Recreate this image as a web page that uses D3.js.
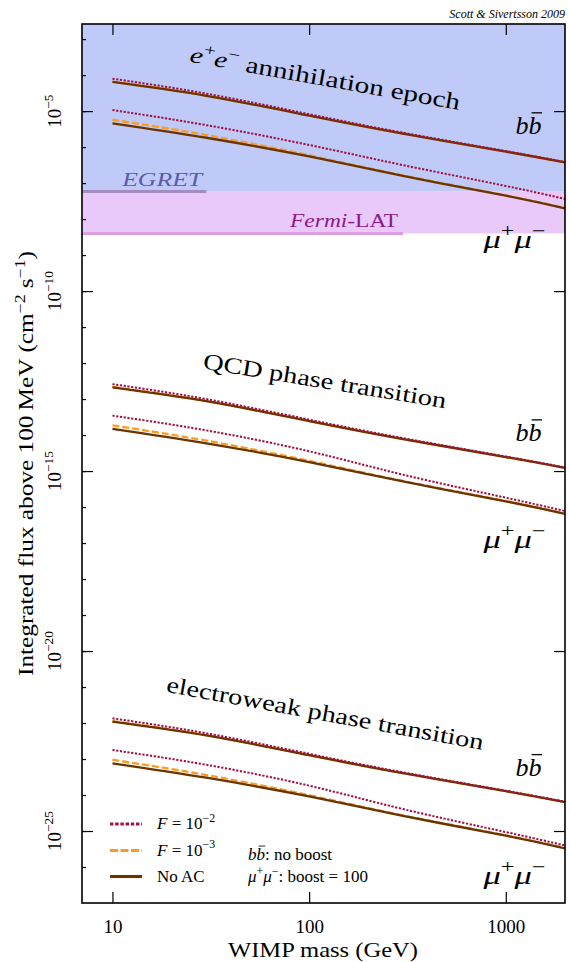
<!DOCTYPE html>
<html>
<head>
<meta charset="utf-8">
<script src="https://cdn.jsdelivr.net/npm/d3@7"></script>
<style>
  body { margin: 0; background: #fff; }
  svg { display: block; }
</style>
</head>
<body>
<svg id="chart"></svg>
<script>
// WIMP masses (GeV) where the curves were read
const masses = [10, 30, 100, 300, 1000, 2000];

// log10 of integrated flux, e+e- annihilation epoch
const eeBbF2   = [-4.10, -4.515, -5.085, -5.60, -6.11, -6.415];
const eeBbF3   = [-4.178, -4.567, -5.12, -5.622, -6.123, -6.424];
const eeBbNoAC = [-4.19, -4.575, -5.125, -5.625, -6.125, -6.425];
const eeMuF2   = [-4.97, -5.39, -5.94, -6.50, -7.08, -7.44];
const eeMuF3   = [-5.24, -5.665, -6.225, -6.785, -7.342, -7.695];
const eeMuNoAC = [-5.34, -5.74, -6.26, -6.80, -7.35, -7.70];

// QCD phase transition
const qcdBbF2   = [-12.585, -13.00, -13.57, -14.085, -14.595, -14.90];
const qcdBbF3   = [-12.663, -13.052, -13.605, -14.107, -14.608, -14.909];
const qcdBbNoAC = [-12.675, -13.06, -13.61, -14.11, -14.61, -14.91];
const qcdMuF2   = [-13.46, -13.87, -14.45, -15.10, -15.74, -16.11];
const qcdMuF3   = [-13.73, -14.155, -14.715, -15.275, -15.832, -16.185];
const qcdMuNoAC = [-13.83, -14.23, -14.75, -15.29, -15.84, -16.19];

// electroweak phase transition
const ewBbF2   = [-21.87, -22.285, -22.855, -23.37, -23.88, -24.185];
const ewBbF3   = [-21.948, -22.337, -22.89, -23.392, -23.893, -24.194];
const ewBbNoAC = [-21.96, -22.345, -22.895, -23.395, -23.895, -24.195];
const ewMuF2   = [-22.75, -23.16, -23.74, -24.39, -25.03, -25.40];
const ewMuF3   = [-23.02, -23.445, -24.005, -24.565, -25.122, -25.475];
const ewMuNoAC = [-23.12, -23.52, -24.04, -24.58, -25.13, -25.48];

// experimental sensitivities: flux limit and mass extent of the marker line
const egretLimit = 5.8e-8, egretMass = 30;
const fermiLimit = 4e-9, fermiMass = 300;

const xTicks = [10, 100, 1000];
const yLabelExp = [-25, -20, -15, -10, -5];
const yMinorExp = d3.range(-26, -2);

const width = 570, height = 962;
const margin = { top: 24, right: 5, bottom: 59, left: 82 };
const FONT = "'Liberation Serif', 'DejaVu Serif', serif";

const colF2 = "#a3103f", colF3 = "#ff9a20", colNo = "#6a3400";

const svg = d3.select("#chart").attr("width", width).attr("height", height)
  .attr("font-family", FONT);

const x = d3.scaleLog().domain([7, 2000]).range([margin.left, width - margin.right]);
const y = d3.scaleLog().domain([1e-27, Math.pow(10, -2.58)]).range([height - margin.bottom, margin.top]);

const [x0, x1] = x.range();
const [yb, yt] = y.range();

// helper for text with italics / superscripts
function rich(sel, parts, size) {
  let shift = 0;
  parts.forEach(p => {
    const ts = sel.append("tspan").text(p.t);
    const target = p.sup ? -0.42 * size : 0;
    if (target !== shift) { ts.attr("dy", target - shift); shift = target; }
    if (p.sup) ts.attr("font-size", size * 0.7);
    if (p.it) ts.attr("font-style", "italic");
  });
  return sel;
}

// b with a bar: draw the bar as a short line over the second b
function bbar(g, px, py, size) {
  const t = g.append("text").attr("x", px).attr("y", py).attr("font-size", size);
  t.append("tspan").attr("font-style", "italic").text("b");
  t.append("tspan").attr("font-style", "italic").text("b");
  const bw = size * 0.5;
  g.append("line")
    .attr("x1", px + bw + size * 0.12).attr("x2", px + 2 * bw + size * 0.02)
    .attr("y1", py - size * 0.82).attr("y2", py - size * 0.82)
    .attr("stroke", "#000").attr("stroke-width", size * 0.05);
  return t;
}

// shaded sensitivity regions
svg.append("rect")
  .attr("x", x0).attr("width", x1 - x0)
  .attr("y", yt).attr("height", y(egretLimit) - yt)
  .attr("fill", "#bfcaf8");
svg.append("rect")
  .attr("x", x0).attr("width", x1 - x0)
  .attr("y", y(egretLimit)).attr("height", y(fermiLimit) - y(egretLimit))
  .attr("fill", "#e8c9f9");

svg.append("line")
  .attr("x1", x0).attr("x2", x(egretMass))
  .attr("y1", y(egretLimit)).attr("y2", y(egretLimit))
  .attr("stroke", "#a38cbf").attr("stroke-width", 3);
svg.append("line")
  .attr("x1", x0).attr("x2", x(fermiMass))
  .attr("y1", y(fermiLimit)).attr("y2", y(fermiLimit))
  .attr("stroke", "#de9fe0").attr("stroke-width", 3);

svg.append("text")
  .attr("x", x(11.2)).attr("y", y(egretLimit) - 6)
  .attr("font-size", 19).attr("font-style", "italic").attr("fill", "#5b5ba8")
  .attr("textLength", 80).attr("lengthAdjust", "spacingAndGlyphs")
  .text("EGRET");
const fermiText = svg.append("text")
  .attr("x", x(80)).attr("y", y(fermiLimit) - 6)
  .attr("font-size", 19).attr("fill", "#8b1a8b")
  .attr("textLength", 108).attr("lengthAdjust", "spacingAndGlyphs");
fermiText.append("tspan").attr("font-style", "italic").text("Fermi");
fermiText.append("tspan").text("-LAT");

// curves
const line = d3.line()
  .x((d, i) => x(masses[i]))
  .y(d => y(Math.pow(10, d)))
  .curve(d3.curveNatural);

const curveSets = [
  [eeBbF3, eeBbNoAC, eeBbF2, eeMuF3, eeMuNoAC, eeMuF2],
  [qcdBbF3, qcdBbNoAC, qcdBbF2, qcdMuF3, qcdMuNoAC, qcdMuF2],
  [ewBbF3, ewBbNoAC, ewBbF2, ewMuF3, ewMuNoAC, ewMuF2]
];
const styles = [
  { c: colF3, w: 2.3, dash: "7,3" },
  { c: colNo, w: 2.3, dash: null },
  { c: colF2, w: 2, dash: "2.2,1.6" }
];

// draw: dashed first, then the no-AC lines, then dotted
curveSets.forEach(set => {
  [0, 1, 2].forEach(k => {
    [set[k], set[k + 3]].forEach(series => {
      svg.append("path")
        .attr("d", line(series))
        .attr("fill", "none")
        .attr("stroke", styles[k].c)
        .attr("stroke-width", styles[k].w)
        .attr("stroke-dasharray", styles[k].dash);
    });
  });
});

// epoch labels, rotated along the curves
const epochLabels = [
  { parts: [{ t: "e", it: 1 }, { t: "+", sup: 1 }, { t: "e", it: 1 }, { t: "\u2212", sup: 1 }, { t: " annihilation epoch" }], m: 24.5, f: -3.63, a: 10.1, len: 274 },
  { parts: [{ t: "QCD phase transition" }], m: 28.6, f: -12.15, a: 9.3, len: 246 },
  { parts: [{ t: "electroweak phase transition" }], m: 18.6, f: -21.13, a: 10.4, len: 322 }
];
epochLabels.forEach(l => {
  const t = svg.append("text")
    .attr("font-size", 23)
    .attr("textLength", l.len).attr("lengthAdjust", "spacingAndGlyphs")
    .attr("transform", `translate(${x(l.m)},${y(Math.pow(10, l.f))}) rotate(${l.a})`);
  rich(t, l.parts, 23);
});

// channel labels
const bbY = [-5.64, -14.17, -23.47];
const muY = [-8.81, -17.14, -26.47];
bbY.forEach(v => bbar(svg, x(1120), y(Math.pow(10, v)), 26));
muY.forEach(v => {
  const t = svg.append("text").attr("font-size", 26)
    .attr("textLength", 62).attr("lengthAdjust", "spacingAndGlyphs")
    .attr("x", x(770)).attr("y", y(Math.pow(10, v)));
  rich(t, [{ t: "\u03bc", it: 1 }, { t: "+", sup: 1 }, { t: "\u03bc", it: 1 }, { t: "\u2212", sup: 1 }], 26);
});

// axes
svg.append("g").attr("transform", `translate(${x0},0)`)
  .call(d3.axisLeft(y).tickValues(yMinorExp.map(e => Math.pow(10, e))).tickSize(-4).tickFormat(""))
  .call(g => g.select(".domain").remove());
svg.append("g").attr("transform", `translate(${x0},0)`)
  .call(d3.axisLeft(y).tickValues(yLabelExp.map(e => Math.pow(10, e))).tickSize(-11).tickFormat(""))
  .call(g => g.select(".domain").remove());
svg.append("g").attr("transform", `translate(${x1},0)`)
  .call(d3.axisRight(y).tickValues(yLabelExp.map(e => Math.pow(10, e))).tickSize(-11).tickFormat(""))
  .call(g => g.select(".domain").remove());
svg.append("g").attr("transform", `translate(0,${yt})`)
  .call(d3.axisTop(x).tickValues(xTicks).tickSize(-11).tickFormat(""))
  .call(g => g.select(".domain").remove());
const xAxis = svg.append("g").attr("transform", `translate(0,${yb})`)
  .call(d3.axisBottom(x).tickValues(xTicks).tickSize(-11).tickPadding(17).tickFormat(d3.format("d")))
  .call(g => g.select(".domain").remove());
xAxis.selectAll("text").attr("font-size", 19).attr("fill", "#000");
svg.selectAll(".tick line").attr("stroke", "#000").attr("stroke-width", 1.2);

yLabelExp.forEach(e => {
  const t = svg.append("text")
    .attr("font-size", 19).attr("text-anchor", "middle")
    .attr("transform", `translate(61,${y(Math.pow(10, e))}) rotate(-90)`);
  rich(t, [{ t: "10" }, { t: "\u2212" + (-e), sup: 1 }], 19);
});

// frame
svg.append("rect")
  .attr("x", x0).attr("y", yt).attr("width", x1 - x0).attr("height", yb - yt)
  .attr("fill", "none").attr("stroke", "#000").attr("stroke-width", 1.6);

// axis titles
svg.append("text")
  .attr("x", 323).attr("y", 957)
  .attr("text-anchor", "middle").attr("font-size", 21)
  .attr("textLength", 190).attr("lengthAdjust", "spacingAndGlyphs")
  .text("WIMP mass (GeV)");
const yTitle = svg.append("text")
  .attr("text-anchor", "middle").attr("font-size", 20)
  .attr("textLength", 425).attr("lengthAdjust", "spacingAndGlyphs")
  .attr("transform", `translate(33,${(yt + yb) / 2}) rotate(-90)`);
rich(yTitle, [{ t: "Integrated flux above 100\u2009MeV (cm" }, { t: "\u22122", sup: 1 }, { t: " s" }, { t: "\u22121", sup: 1 }, { t: ")" }], 20);

svg.append("text")
  .attr("x", x1).attr("y", 18).attr("text-anchor", "end")
  .attr("font-size", 12).attr("font-style", "italic")
  .text("Scott & Sivertsson 2009");

// legend
const legendItems = [
  { parts: [{ t: "F", it: 1 }, { t: " = 10" }, { t: "\u22122", sup: 1 }], s: styles[2], dash: "3.4,1.8" },
  { parts: [{ t: "F", it: 1 }, { t: " = 10" }, { t: "\u22123", sup: 1 }], s: styles[0], dash: "8,2.5" },
  { parts: [{ t: "No AC" }], s: styles[1], dash: null }
];
const legY = [824, 850.5, 876.5];
legendItems.forEach((it, i) => {
  svg.append("line")
    .attr("x1", 110).attr("x2", 142).attr("y1", legY[i]).attr("y2", legY[i])
    .attr("stroke", it.s.c).attr("stroke-width", it.s.w + 0.8)
    .attr("stroke-dasharray", it.dash);
  const t = svg.append("text").attr("x", 157).attr("y", legY[i] + 5).attr("font-size", 17);
  rich(t, it.parts, 17);
});
const note1 = bbar(svg, 248, 860, 17);
rich(note1, [{ t: ": no boost" }], 17);
const note2 = svg.append("text").attr("x", 248).attr("y", 882).attr("font-size", 17);
rich(note2, [{ t: "\u03bc", it: 1 }, { t: "+", sup: 1 }, { t: "\u03bc", it: 1 }, { t: "\u2212", sup: 1 }, { t: ": boost = 100" }], 17);

// force the serif family on every label (axis groups set their own)
svg.selectAll("text").style("font-family", FONT);
</script>
</body>
</html>
